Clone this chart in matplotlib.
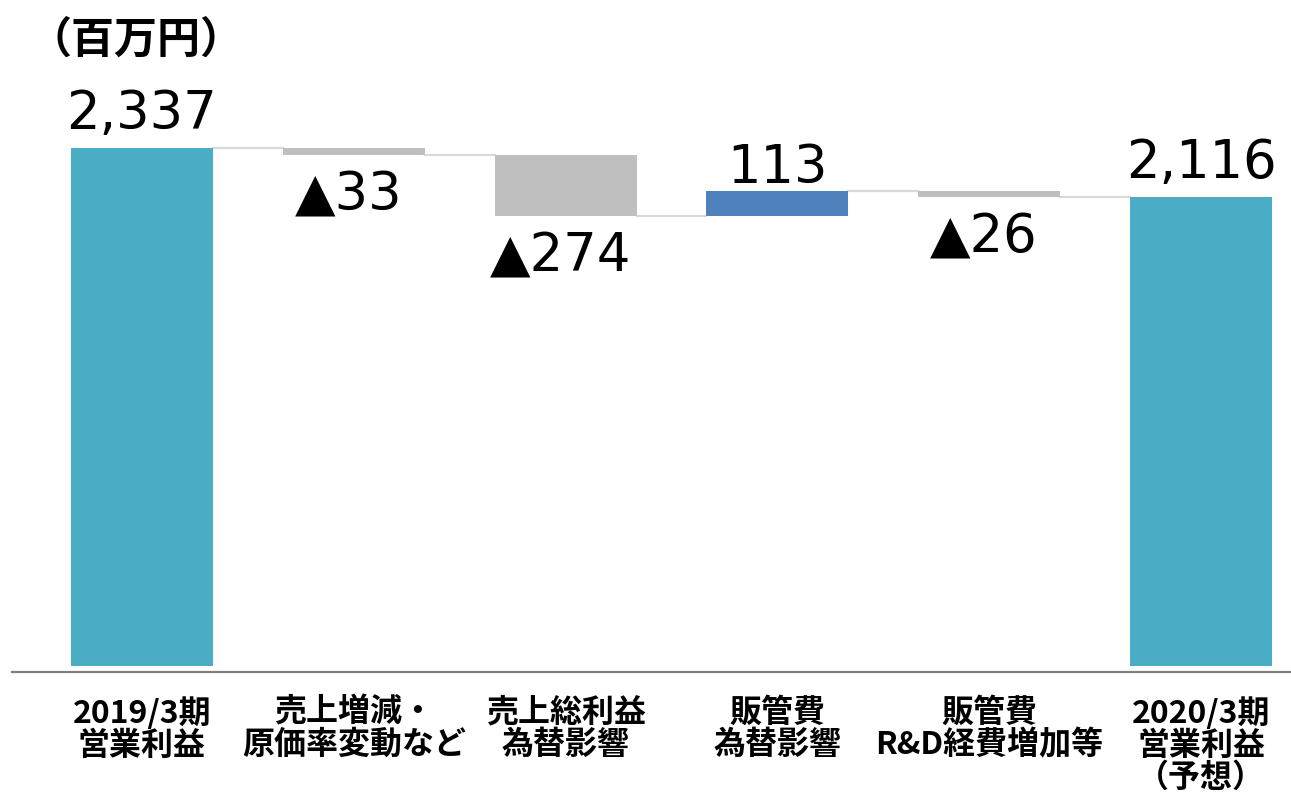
import matplotlib
matplotlib.use("Agg")
import matplotlib.pyplot as plt
import numpy as np

categories = ["2019/3期\n営業利益", "売上増減・\n原価率変動など", "売上総利益\n為替影響",
              "販管費\n為替影響", "販管費\nR&D経費増加等", "2020/3期\n営業利益\n（予想）"]
values = [2337, -33, -274, 113, -26, 2116]
kinds = ["total", "delta", "delta", "delta", "delta", "total"]
labels = ["2,337", "▲33", "▲274", "113", "▲26", "2,116"]

TEAL = "#4BACC6"
GRAY = "#BFBFBF"
BLUE = "#4F81BD"

W, H = 1291, 798
fig = plt.figure(figsize=(W / 100, H / 100), dpi=100)
ax_left, ax_right = 12, 1290
ax_top, ax_bot = 60, 672
ax = fig.add_axes([ax_left / W, 1 - ax_bot / H, (ax_right - ax_left) / W, (ax_bot - ax_top) / H])

# compute waterfall bottoms/tops
bottoms, heights, colors, ends = [], [], [], []
running = 0
for v, k in zip(values, kinds):
    if k == "total":
        b, h = 0, v
        running = v
        c = TEAL
    else:
        start = running
        running = running + v
        b, h = min(start, running), abs(v)
        c = GRAY if v < 0 else BLUE
    bottoms.append(b); heights.append(h); colors.append(c); ends.append(running)

x = np.arange(len(values))
bw = 0.67
ax.bar(x, heights, bottom=bottoms, width=bw, color=colors, linewidth=0, zorder=3)

# connectors
for i in range(len(values) - 1):
    ax.plot([x[i] + bw / 2, x[i + 1] - bw / 2], [ends[i], ends[i]], color="#D9D9D9", lw=1.6, zorder=2)

# axis limits (px-based scale)
pxu = 518 / 2337.0
ymin = -(ax_bot - 666) / pxu
ymax = ymin + (ax_bot - ax_top) / pxu
ax.set_ylim(ymin, ymax)
sp = 211.8
ax.set_xlim(-(142 - ax_left) / sp, 5 + (ax_right - 1201) / sp)

for s in ["top", "right", "left"]:
    ax.spines[s].set_visible(False)
ax.spines["bottom"].set_color("#808080")
ax.spines["bottom"].set_linewidth(1.6)
ax.set_yticks([])
ax.set_xticks([])

num_font = ["DejaVu Sans"]
for i, (v, k, lab) in enumerate(zip(values, kinds, labels)):
    top = bottoms[i] + heights[i]
    if v >= 0:
        off = 14 if k == "total" else 6
        ax.annotate(lab, (x[i], top), xytext=(0, off), textcoords="offset points",
                    ha="center", va="baseline", fontsize=38, family=num_font, color="#000000")
    else:
        ax.annotate(lab, (x[i], bottoms[i]), xytext=(-4, -40), textcoords="offset points",
                    ha="center", va="baseline", fontsize=38, family=num_font, color="#000000")

# category labels
for i, c in enumerate(categories):
    ax.annotate(c, (x[i], ymin), xytext=(0, -18), textcoords="offset points",
                ha="center", va="top", fontsize=23, fontweight="bold",
                family=["Noto Sans CJK JP", "DejaVu Sans"], linespacing=1.0, annotation_clip=False)

fig.text(28 / W, 1 - 40 / H, "（百万円）", ha="left", va="center", fontsize=31, fontweight="bold",
         family=["Noto Sans CJK JP", "DejaVu Sans"])

fig.savefig("out.png", dpi=100, facecolor="white")
